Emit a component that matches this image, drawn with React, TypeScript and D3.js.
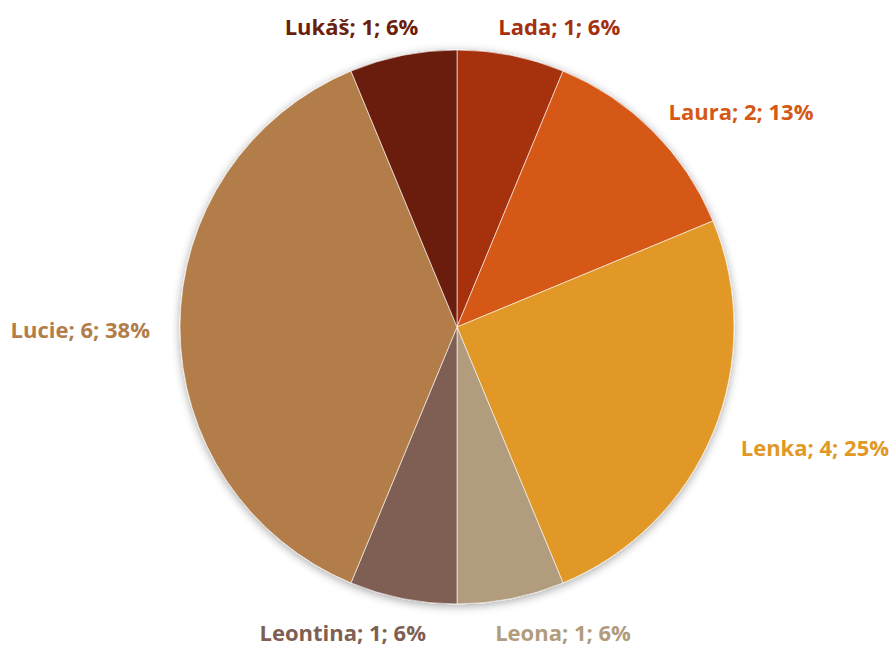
import { useEffect, useRef } from "react";
import * as d3 from "d3";

const names = ["Lada", "Laura", "Lenka", "Leona", "Leontina", "Lucie", "Lukáš"];
const counts = [1, 2, 4, 1, 1, 6, 1];
const percents = ["6%", "13%", "25%", "6%", "6%", "38%", "6%"];
const colors = ["#A5300F", "#D55816", "#E19825", "#B19C7D", "#7F5F52", "#B27D49", "#6B1E0B"];

const App = () => {
    const svgRef = useRef<SVGSVGElement>(null);
    const width = 892;
    const height = 648;

    useEffect(() => {
        const svg = d3.select(svgRef.current);
        svg.selectAll("*").remove();

        const cx = 457;
        const cy = 327;
        const radius = 277;

        const defs = svg.append("defs");
        const filter = defs.append("filter").attr("id", "shadow")
            .attr("x", "-20%").attr("y", "-20%").attr("width", "140%").attr("height", "140%");
        filter.append("feGaussianBlur").attr("in", "SourceAlpha").attr("stdDeviation", 5);
        filter.append("feOffset").attr("dx", 0).attr("dy", 2).attr("result", "blur");
        filter.append("feComponentTransfer").append("feFuncA").attr("type", "linear").attr("slope", 0.35);
        const merge = filter.append("feMerge");
        merge.append("feMergeNode");
        merge.append("feMergeNode").attr("in", "SourceGraphic");

        const data = names.map((n, i) => ({ name: n, value: counts[i], pct: percents[i], color: colors[i] }));
        const pie = d3.pie<any>().value((d) => d.value).sort(null);
        const arcs = pie(data);
        const arc = d3.arc<any>().innerRadius(0).outerRadius(radius);

        const g = svg.append("g").attr("transform", `translate(${cx},${cy})`);

        g.append("g")
            .attr("filter", "url(#shadow)")
            .selectAll("path")
            .data(arcs)
            .join("path")
            .attr("d", arc)
            .attr("fill", (d) => d.data.color)
            .attr("stroke", "#ffffff")
            .attr("stroke-width", 0.6);

        const labelR = radius + 18;
        const labels = g.append("g")
            .selectAll("text")
            .data(arcs)
            .join("text")
            .attr("font-family", "'Open Sans', sans-serif")
            .attr("font-weight", "bold")
            .attr("font-size", 22)
            .attr("fill", (d) => d.data.color)
            .attr("dominant-baseline", "central")
            .text((d) => `${d.data.name}; ${d.data.value}; ${d.data.pct}`);

        labels.each(function (d) {
            const el = this as SVGTextElement;
            const w = el.getComputedTextLength();
            const a = (d.startAngle + d.endAngle) / 2;
            const s = Math.sin(a);
            const c = Math.cos(a);
            const px = labelR * s;
            const py = -labelR * c;
            const sign = s >= 0 ? 1 : -1;
            const pull = 0.25 * w * Math.pow(c, 4);
            const edge = px + sign * 12 - sign * pull;
            const x = sign > 0 ? edge + w / 2 : edge - w / 2;
            const y = py - c * 14 + 2;
            d3.select(el).attr("x", x).attr("y", y).attr("text-anchor", "middle");
        });
    }, []);

    return <svg ref={svgRef} width={width} height={height} style={{ position: "absolute", left: 0, top: 0 }}></svg>;
};

export default App;
